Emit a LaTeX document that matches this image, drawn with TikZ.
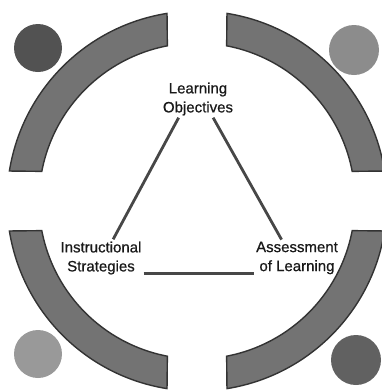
\documentclass[tikz,border=0pt]{standalone}
\usepackage{fontspec}
\setmainfont{Liberation Sans}
\newfontfamily\lblfont{Liberation Sans}[FakeBold=0.7]
\tikzset{
  seg/.style  ={fill=black!55, draw=black!80, line width=1.4pt},
  link/.style ={draw=black!72, line width=2.8pt},
  lbl/.style  ={align=center, inner sep=2pt, text=black!90,
                font=\lblfont\fontsize{15}{19}\selectfont},
}

\begin{document}
\begin{tikzpicture}[x=1pt, y=-1pt]
\useasboundingbox (0,0) rectangle (382,392);
\clip (0,0) rectangle (382,392);
\foreach \q in {0,90,180,270}{
  \begin{scope}[shift={(197,201)}, rotate=\q]
    \draw[seg] (9.08:190) arc[start angle=9.08, end angle=80.92, radius=190]
      -- (79.19:158) arc[start angle=79.19, end angle=10.81, radius=158] -- cycle;
  \end{scope}
}
\fill[black!68] (38,48)  circle (24);
\fill[black!45] (354,50) circle (25);
\fill[black!40] (38,354) circle (24);
\fill[black!62] (356,360) circle (25);
\node[lbl] (lo) at (198,99)  {Learning\\Objectives};
\node[lbl] (is) at (101,258) {Instructional\\Strategies};
\node[lbl] (al) at (297,258) {Assessment\\of Learning};
\draw[link] (lo.224) -- (is.57);
\draw[link] (lo.-51) -- (al.130);
\draw[link] (is.-20) -- (is.-20 -| al.west);
\end{tikzpicture}
\end{document}
